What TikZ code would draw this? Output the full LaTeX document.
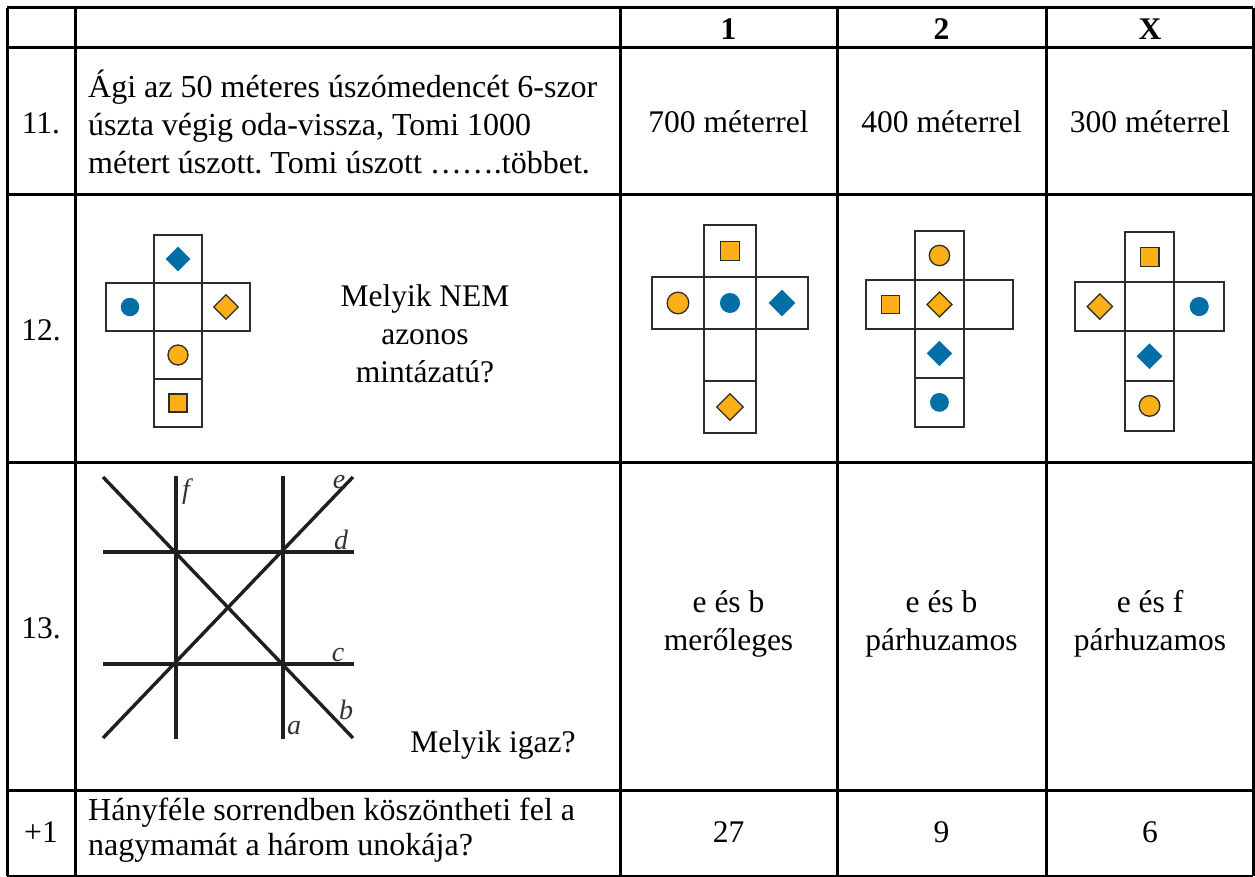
\documentclass[tikz,border=0pt]{standalone}
\usepackage{fontspec}
\setmainfont{Liberation Serif}
\usetikzlibrary{shapes.geometric}
\definecolor{netblue}{RGB}{0,111,166}
\definecolor{netorange}{RGB}{252,175,23}
\definecolor{netline}{RGB}{45,45,45}
\frenchspacing
\tikzset{
  grid/.style={line width=3pt, black},
  txt/.style={font=\fontsize{31.5}{38}\selectfont, inner sep=0pt, align=center},
  hdr/.style={font=\fontsize{31.5}{38}\selectfont\bfseries, inner sep=0pt},
  desc/.style={font=\fontsize{32}{38}\selectfont, inner sep=0pt, align=left, anchor=west},
  cell/.style={draw=netline, line width=1.9pt, minimum size=48pt, inner sep=0pt, outer sep=0pt},
  bdia/.style={diamond, fill=netblue, minimum size=25pt, inner sep=0pt},
  bcirc/.style={circle, fill=netblue, minimum size=18.5pt, inner sep=0pt},
  ocirc/.style={circle, fill=netorange, draw=netline, line width=1.3pt, minimum size=20pt, inner sep=0pt},
  osq/.style={rectangle, fill=netorange, draw=netline, line width=1.3pt, minimum size=18pt, inner sep=0pt},
  odia/.style={diamond, fill=netorange, draw=netline, line width=1.3pt, minimum size=25pt, inner sep=0pt},
  geo/.style={line width=3.4pt, black!88},
  lbl/.style={font=\fontsize{28}{28}\selectfont\itshape, inner sep=0pt, black!80}
}
\begin{document}
\begin{tikzpicture}[x=1pt,y=-1pt]
\useasboundingbox (0,0) rectangle (1255,877);
\fill[white] (0,0) rectangle (1255,877);

% ---------- table grid ----------
\draw[grid] (7,8) -- (1253,8);
\draw[grid] (7,48) -- (1253,48);
\draw[grid] (7,195) -- (1253,195);
\draw[grid] (7,462) -- (1253,462);
\draw[grid] (7,790) -- (1253,790);
\draw[grid] (7,876) -- (1253,876);
\draw[grid] (7,8) -- (7,876);
\draw[grid] (75,8) -- (75,876);
\draw[grid] (620,8) -- (620,876);
\draw[grid] (837,8) -- (837,876);
\draw[grid] (1046,8) -- (1046,876);
\draw[grid] (1253,8) -- (1253,876);

% ---------- header ----------
\node[hdr] (h1) at (728.5,29) {1};
\node[hdr] (h2) at (941.5,29) {2};
\node[hdr] (hx) at (1150,29) {X};

% ---------- row 11 ----------
\node[txt] (n11) at (41,123) {11.};
\node[desc] (q11) at (88,122) {Ági az 50 méteres úszómedencét 6-szor\\úszta végig oda-vissza, Tomi 1000\\métert úszott. Tomi úszott …….többet.};
\node[txt] (a11a) at (728.5,122) {700 méterrel};
\node[txt] (a11b) at (941.5,122) {400 méterrel};
\node[txt] (a11x) at (1150,122) {300 méterrel};

% ---------- row 12 ----------
\node[txt] (n12) at (41,330) {12.};
\node[txt] (q12) at (425,334) {Melyik NEM\\azonos\\mintázatú?};

% question net
\begin{scope}[shift={(106,235)}]
  \node[cell] (L10) at (72,24) {};
  \node[cell] (L01) at (24,72) {};
  \node[cell] (L11) at (72,72) {};
  \node[cell] (L21) at (120,72) {};
  \node[cell] (L12) at (72,120) {};
  \node[cell] (L13) at (72,168) {};
  \node[bdia] (Ls10) at (L10) {};
  \node[bcirc] (Ls01) at (L01) {};
  \node[odia] (Ls21) at (L21) {};
  \node[ocirc] (Ls12) at (L12) {};
  \node[osq] (Ls13) at (L13) {};
\end{scope}

% answer 1 net
\begin{scope}[shift={(652,225)}, scale=1.083, transform shape]
  \node[cell] (A10) at (72,24) {};
  \node[cell] (A01) at (24,72) {};
  \node[cell] (A11) at (72,72) {};
  \node[cell] (A21) at (120,72) {};
  \node[cell] (A12) at (72,120) {};
  \node[cell] (A13) at (72,168) {};
  \node[osq] (As10) at (A10) {};
  \node[ocirc] (As01) at (A01) {};
  \node[bcirc] (As11) at (A11) {};
  \node[bdia] (As21) at (A21) {};
  \node[odia] (As13) at (A13) {};
\end{scope}

% answer 2 net
\begin{scope}[shift={(866,231)}, scale=1.02, transform shape]
  \node[cell] (B10) at (72,24) {};
  \node[cell] (B01) at (24,72) {};
  \node[cell] (B11) at (72,72) {};
  \node[cell] (B21) at (120,72) {};
  \node[cell] (B12) at (72,120) {};
  \node[cell] (B13) at (72,168) {};
  \node[ocirc] (Bs10) at (B10) {};
  \node[osq] (Bs01) at (B01) {};
  \node[odia] (Bs11) at (B11) {};
  \node[bdia] (Bs12) at (B12) {};
  \node[bcirc] (Bs13) at (B13) {};
\end{scope}

% answer X net
\begin{scope}[shift={(1075,232)}, scale=1.035, transform shape]
  \node[cell] (C10) at (72,24) {};
  \node[cell] (C01) at (24,72) {};
  \node[cell] (C11) at (72,72) {};
  \node[cell] (C21) at (120,72) {};
  \node[cell] (C12) at (72,120) {};
  \node[cell] (C13) at (72,168) {};
  \node[osq] (Cs10) at (C10) {};
  \node[odia] (Cs01) at (C01) {};
  \node[bcirc] (Cs21) at (C21) {};
  \node[bdia] (Cs12) at (C12) {};
  \node[ocirc] (Cs13) at (C13) {};
\end{scope}

% ---------- row 13 ----------
\node[txt] (n13) at (41,628) {13.};
\coordinate (bS) at (103,477);
\coordinate (bE) at (353,738);
\coordinate (eS) at (103,738);
\coordinate (eE) at (353,477);
\coordinate (dS) at (103,552);
\coordinate (dE) at (354,552);
\coordinate (cS) at (103,664);
\coordinate (cE) at (354,664);
\coordinate (fS) at (176,476);
\coordinate (fE) at (176,739);
\coordinate (aS) at (283,476);
\coordinate (aE) at (283,739);
\draw[geo] (bS) -- (bE);
\draw[geo] (eS) -- (eE);
\draw[geo] (dS) -- (dE);
\draw[geo] (cS) -- (cE);
\draw[geo] (fS) -- (fE);
\draw[geo] (aS) -- (aE);
\node[lbl] (lf) at (186,492) {f};
\node[lbl] (le) at (339,482) {e};
\node[lbl] (ld) at (341,540) {d};
\node[lbl] (lc) at (338,655) {c};
\node[lbl] (lb) at (346,710) {b};
\node[lbl] (la) at (294,728) {a};
\node[txt] (q13) at (493,745) {Melyik igaz?};
\node[txt] (a13a) at (728.5,624) {e és b\\merőleges};
\node[txt] (a13b) at (941.5,624) {e és b\\párhuzamos};
\node[txt] (a13x) at (1150,624) {e és f\\párhuzamos};

% ---------- row +1 ----------
\node[txt] (n14) at (41,832) {+1};
\node[desc, font=\fontsize{32}{35}\selectfont] (q14) at (88,830) {Hányféle sorrendben köszöntheti fel a\\nagymamát a három unokája?};
\node[txt] (a14a) at (728.5,832) {27};
\node[txt] (a14b) at (941.5,832) {9};
\node[txt] (a14x) at (1150,832) {6};
\end{tikzpicture}
\end{document}
